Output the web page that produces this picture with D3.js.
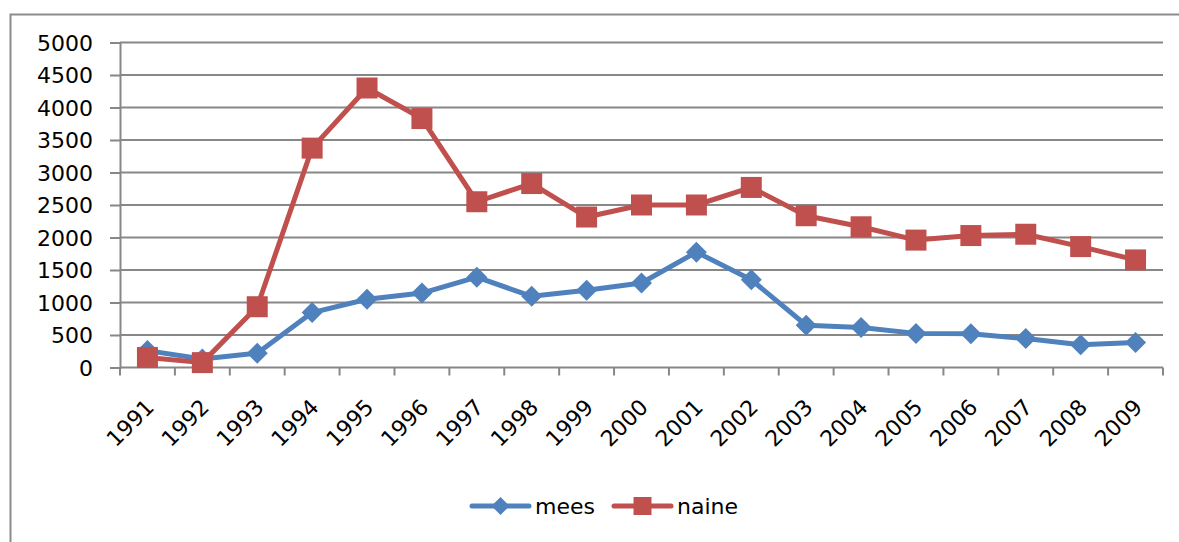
<!DOCTYPE html>
<html>
<head>
<meta charset="utf-8">
<script src="https://cdn.jsdelivr.net/npm/d3@7/dist/d3.min.js"></script>
<style>
  html, body { margin: 0; padding: 0; background: #fff; }
  svg { display: block; }
  text { font-family: "DejaVu Sans", sans-serif; fill: #000; }
</style>
</head>
<body>
<script>
// Yearly counts, 1991–2009
const years = ["1991","1992","1993","1994","1995","1996","1997","1998","1999","2000",
               "2001","2002","2003","2004","2005","2006","2007","2008","2009"];
const mees  = [260, 130, 220, 845, 1050, 1145, 1390, 1095, 1190, 1300,
               1775, 1350, 650, 615, 525, 520, 445, 350, 385];
const naine = [155, 75, 935, 3375, 4300, 3830, 2550, 2830, 2315, 2500,
               2500, 2770, 2335, 2165, 1960, 2030, 2050, 1860, 1655];
const yTicks = [0, 500, 1000, 1500, 2000, 2500, 3000, 3500, 4000, 4500, 5000];
const seriesNames = ["mees", "naine"];
const seriesColors = ["#4F81BD", "#C0504D"];

const W = 1179, H = 542;
const plot = { left: 120, right: 1163, top: 42.5, bottom: 367.5 };
const gridColor = "#878787";

const svg = d3.select("body").append("svg").attr("width", W).attr("height", H);

// chart frame (top and left edges visible)
svg.append("path")
  .attr("d", `M10.5,${H} V14.5 H${W}`)
  .attr("fill", "none").attr("stroke", "#8c8c8c").attr("stroke-width", 2);

const x = d3.scaleBand().domain(years).range([plot.left, plot.right]).padding(0);
const y = d3.scaleLinear().domain([0, 5000]).range([plot.bottom, plot.top]);

// horizontal gridlines with left tick stubs
const yAxis = d3.axisLeft(y).tickValues(yTicks).tickFormat(d3.format("d"))
  .tickSize(10).tickPadding(17);
const gy = svg.append("g").attr("transform", `translate(${plot.left},0)`).call(yAxis);
gy.select(".domain").attr("stroke", gridColor).attr("stroke-width", 2);
gy.selectAll(".tick line").attr("stroke", gridColor).attr("stroke-width", 2);
gy.selectAll(".tick text").style("font-size", "22px").attr("dy", "0.36em");

svg.append("g").selectAll("line").data(yTicks.filter(t => t > 0)).join("line")
  .attr("x1", plot.left).attr("x2", plot.right)
  .attr("y1", d => y(d)).attr("y2", d => y(d))
  .attr("stroke", gridColor).attr("stroke-width", 2);

// category axis: ticks at band boundaries
const gx = svg.append("g").attr("transform", `translate(0,${plot.bottom})`);
gx.append("line").attr("x1", plot.left).attr("x2", plot.right)
  .attr("stroke", gridColor).attr("stroke-width", 2);
const bounds = years.map(d => x(d)).concat([plot.right]);
gx.selectAll("line.tk").data(bounds).join("line").attr("class", "tk")
  .attr("x1", d => d).attr("x2", d => d).attr("y1", 0).attr("y2", 8)
  .attr("stroke", gridColor).attr("stroke-width", 2);
gx.selectAll("text").data(years).join("text")
  .attr("text-anchor", "end")
  .style("font-size", "22px")
  .attr("transform", d => `translate(${x(d) + x.bandwidth() / 2 + 8},${41}) rotate(-45)`)
  .text(d => d);

const cx = d => x(d) + x.bandwidth() / 2;
const line = d3.line().x((v, i) => cx(years[i])).y(v => y(v));

const diamond = r => `M0,${-r} L${r},0 L0,${r} L${-r},0 Z`;
const square = s => `M${-s},${-s} H${s} V${s} H${-s} Z`;

function drawSeries(values, color, shape) {
  const g = svg.append("g");
  g.append("path").datum(values).attr("d", line)
    .attr("fill", "none").attr("stroke", color).attr("stroke-width", 5)
    .attr("stroke-linejoin", "round").attr("stroke-linecap", "round");
  g.selectAll("path.m").data(values).join("path").attr("class", "m")
    .attr("transform", (v, i) => `translate(${cx(years[i])},${y(v)})`)
    .attr("d", shape).attr("fill", color);
}
drawSeries(mees, seriesColors[0], diamond(10.5));
drawSeries(naine, seriesColors[1], square(10.5));

// legend
const legend = svg.append("g").attr("transform", "translate(0,506)");
const legendItems = [
  { x: 472, name: seriesNames[0], color: seriesColors[0], shape: diamond(9) },
  { x: 614, name: seriesNames[1], color: seriesColors[1], shape: square(9) }
];
legendItems.forEach(it => {
  legend.append("line").attr("x1", it.x).attr("x2", it.x + 57).attr("y1", 0).attr("y2", 0)
    .attr("stroke", it.color).attr("stroke-width", 5).attr("stroke-linecap", "round");
  legend.append("path").attr("transform", `translate(${it.x + 28.5},0)`)
    .attr("d", it.shape).attr("fill", it.color);
  legend.append("text").attr("x", it.x + 63).attr("y", 0).attr("dy", "0.36em")
    .style("font-size", "22px").text(it.name);
});
</script>
</body>
</html>
